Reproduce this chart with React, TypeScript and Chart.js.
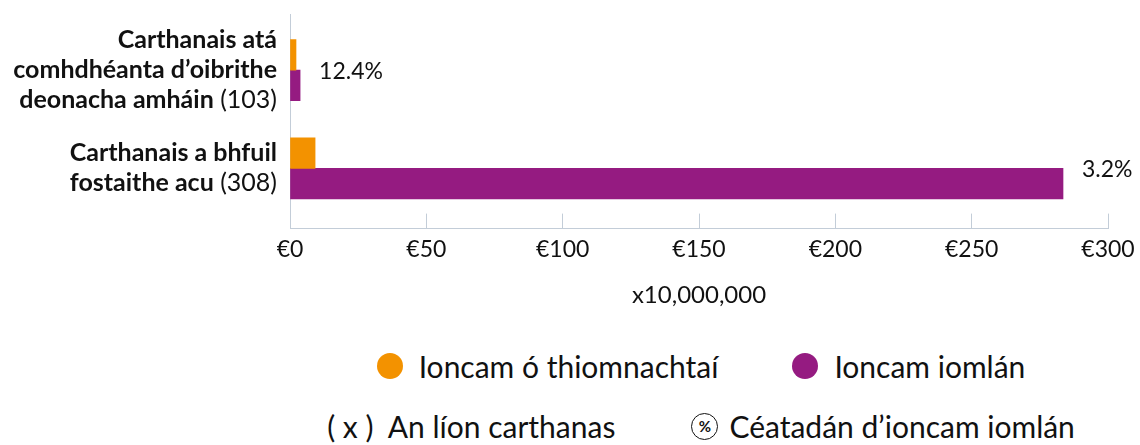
import React, { useEffect, useRef } from "react";
import { Chart, registerables } from "chart.js";

Chart.register(...registerables);

// ---- data ----
const categoryLines: string[][] = [
  ["Carthanais atá", "comhdhéanta d’oibrithe", "deonacha amháin"],
  ["Carthanais a bhfuil", "fostaithe acu"],
];
const categoryCounts = ["(103)", "(308)"];
const bequestIncome = [2.2, 9.2];
const totalIncome = [3.7, 283.5];
const bequestShare = ["12.4%", "3.2%"];
const xMin = 0;
const xMax = 300;
const xStep = 50;
const xAxisTitle = "x10,000,000";
const seriesNames = ["Ioncam ó thiomnachtaí", "Ioncam iomlán"];
const seriesColors = ["#F39200", "#951B81"];
const noteCount = "( x )  An líon carthanas";
const noteShare = "Céatadán d’ioncam iomlán";

// category axis range (index units), leaves Excel-like margins above/below
const yRangeMin = -0.571;
const yRangeMax = 1.612;

const FONT = "Lato, 'Open Sans', sans-serif";
const AXIS_COLOR = "#c3cdd8";

const yLabelPlugin = {
  id: "yLabelPlugin",
  afterDraw(chart: any) {
    const { ctx } = chart;
    const ys = chart.scales.y;
    const xs = chart.scales.x;
    const right = xs.left - 13;
    const fs = 25;
    const lh = 30;
    ctx.save();
    ctx.fillStyle = "#111";
    ctx.textBaseline = "middle";
    ctx.textAlign = "right";
    categoryLines.forEach((lines, i) => {
      const cy = ys.getPixelForValue(i);
      const top = cy - ((lines.length - 1) * lh) / 2;
      lines.forEach((line, j) => {
        const ly = top + j * lh;
        let xr = right;
        if (j === lines.length - 1) {
          ctx.font = `400 ${fs}px ${FONT}`;
          const suffix = " " + categoryCounts[i];
          ctx.fillText(suffix, xr, ly);
          xr -= ctx.measureText(suffix).width;
        }
        ctx.font = `700 ${fs}px ${FONT}`;
        ctx.fillText(line, xr, ly);
      });
    });
    ctx.restore();
  },
};

const shareLabelPlugin = {
  id: "shareLabelPlugin",
  afterDatasetsDraw(chart: any) {
    const { ctx } = chart;
    const ys = chart.scales.y;
    const xs = chart.scales.x;
    ctx.save();
    ctx.fillStyle = "#111";
    ctx.font = `400 23px ${FONT}`;
    ctx.textAlign = "left";
    ctx.textBaseline = "middle";
    bequestShare.forEach((txt, i) => {
      const end = Math.max(bequestIncome[i], totalIncome[i]);
      const x = xs.getPixelForValue(end) + 19;
      const y = ys.getPixelForValue(i) + 1;
      ctx.fillText(txt, x, y);
    });
    ctx.restore();
  },
};

export default function App() {
  const ref = useRef<HTMLCanvasElement | null>(null);

  useEffect(() => {
    if (!ref.current) return;
    const chart = new Chart(ref.current, {
      type: "bar",
      data: {
        datasets: [
          {
            label: seriesNames[0],
            data: bequestIncome.map((v, i) => ({ x: v, y: i })),
            backgroundColor: seriesColors[0],
            barThickness: 30.5,
          },
          {
            label: seriesNames[1],
            data: totalIncome.map((v, i) => ({ x: v, y: i })),
            backgroundColor: seriesColors[1],
            barThickness: 30.5,
          },
        ],
      },
      options: {
        indexAxis: "y",
        responsive: false,
        animation: false,
        layout: { padding: { left: 290, right: 32, top: 14, bottom: 0 } },
        plugins: {
          legend: { display: false },
          tooltip: { enabled: false },
        },
        scales: {
          x: {
            type: "linear",
            min: xMin,
            max: xMax,
            afterFit: (s: any) => {
              s.paddingLeft = 0;
              s.paddingRight = 0;
            },
            grid: {
              drawOnChartArea: false,
              drawTicks: true,
              tickLength: -15,
              color: AXIS_COLOR,
              lineWidth: 1,
            },
            border: { display: true, color: AXIS_COLOR, width: 1 },
            ticks: {
              stepSize: xStep,
              padding: 22,
              color: "#111",
              font: { family: FONT, size: 23 },
              callback: (v: any) => "€" + v,
              maxRotation: 0,
            },
            title: {
              display: true,
              text: xAxisTitle,
              color: "#111",
              font: { family: FONT, size: 24 },
              padding: { top: -4, bottom: 0 },
            },
          },
          y: {
            type: "linear",
            reverse: true,
            offset: false,
            min: yRangeMin,
            max: yRangeMax,
            grid: { display: false, drawTicks: false, offset: false },
            border: { display: true, color: AXIS_COLOR, width: 1 },
            ticks: { display: false },
          },
        },
      },
      plugins: [yLabelPlugin, shareLabelPlugin],
    } as any);
    return () => chart.destroy();
  }, []);

  const legendText: React.CSSProperties = {
    fontFamily: FONT,
    fontSize: 30,
    color: "#111",
    whiteSpace: "pre",
    lineHeight: "34px",
  };

  const rowBase: React.CSSProperties = {
    position: "absolute",
    left: 0,
    width: 1140,
    height: 34,
    display: "flex",
    justifyContent: "center",
    alignItems: "center",
    paddingLeft: 262,
    boxSizing: "border-box",
  };

  return (
    <div
      style={{
        position: "fixed",
        left: 0,
        top: 0,
        width: 1140,
        height: 445,
        background: "#fff",
        overflow: "hidden",
      }}
    >
      <canvas ref={ref} width={1140} height={310} style={{ position: "absolute", left: 0, top: 0 }} />
      <div style={{ ...rowBase, top: 349, gap: 74 }}>
        {seriesNames.map((name, i) => (
          <div key={name} style={{ display: "flex", alignItems: "center" }}>
            <span
              style={{
                display: "inline-block",
                width: 26,
                height: 26,
                borderRadius: "50%",
                background: seriesColors[i],
                marginRight: 16,
              }}
            />
            <span style={legendText}>{name}</span>
          </div>
        ))}
      </div>
      <div style={{ ...rowBase, top: 409, gap: 76 }}>
        <span style={legendText}>{noteCount}</span>
        <div style={{ display: "flex", alignItems: "center" }}>
          <span
            style={{
              display: "inline-flex",
              alignItems: "center",
              justifyContent: "center",
              width: 25,
              height: 25,
              borderRadius: "50%",
              border: "1px solid #111",
              fontFamily: FONT,
              fontSize: 15,
              fontWeight: 700,
              color: "#111",
              marginRight: 11,
            }}
          >
            %
          </span>
          <span style={legendText}>{noteShare}</span>
        </div>
      </div>
    </div>
  );
}
